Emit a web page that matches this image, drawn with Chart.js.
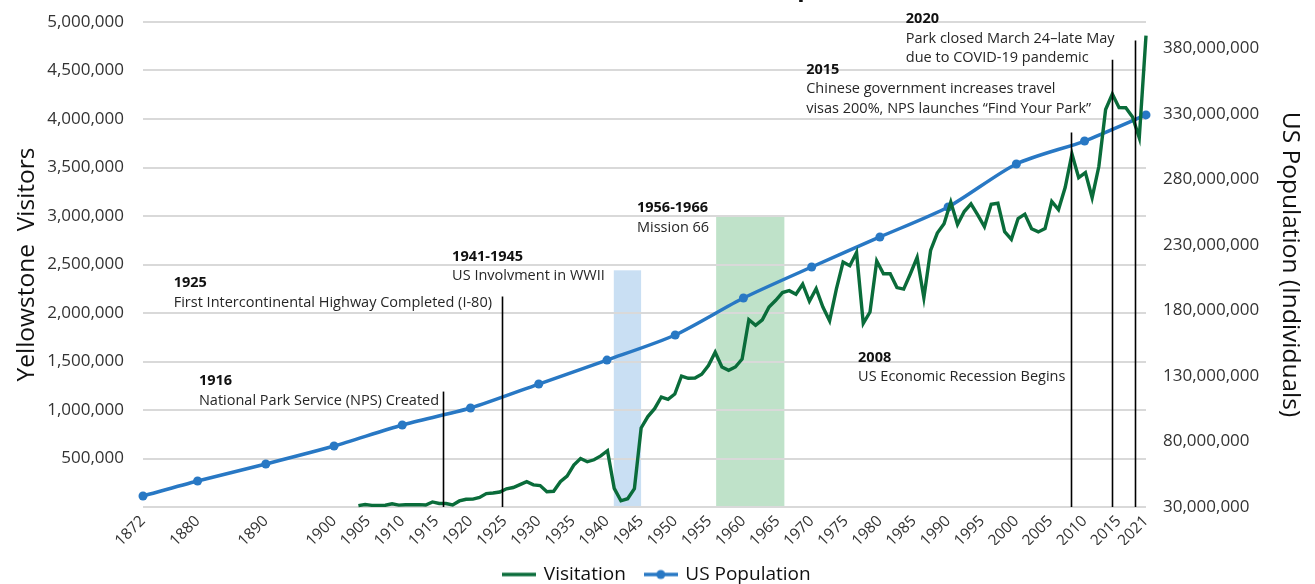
<!DOCTYPE html>
<html>
<head>
<meta charset="utf-8">
<script src="https://cdn.jsdelivr.net/npm/chart.js@4.4.1/dist/chart.umd.min.js"></script>
<style>
  html, body { margin: 0; padding: 0; background: #ffffff; overflow: hidden; }
  #wrap { position: relative; width: 1315px; height: 584px; overflow: hidden; background: #fff; }
  #c { position: absolute; left: 0; top: -25px; }
</style>
</head>
<body>
<div id="wrap"><canvas id="c" width="1315" height="619"></canvas></div>
<script>
// ---------------- DATA ----------------
const visitYears = [
  1904,1905,1906,1907,1908,1909,1910,1911,1912,1913,1914,1915,1916,1917,1918,1919,
  1920,1921,1922,1923,1924,1925,1926,1927,1928,1929,1930,1931,1932,1933,1934,1935,
  1936,1937,1938,1939,1940,1941,1942,1943,1944,1945,1946,1947,1948,1949,1950,1951,
  1952,1953,1954,1955,1956,1957,1958,1959,1960,1961,1962,1963,1964,1965,1966,1967,
  1968,1969,1970,1971,1972,1973,1974,1975,1976,1977,1978,1979,1980,1981,1982,1983,
  1984,1985,1986,1987,1988,1989,1990,1991,1992,1993,1994,1995,1996,1997,1998,1999,
  2000,2001,2002,2003,2004,2005,2006,2007,2008,2009,2010,2011,2012,2013,2014,2015,
  2016,2017,2018,2019,2020,2021
];
const visitors = [
  13727,26188,17182,16414,18748,32545,19575,23054,22970,24929,20250,51895,35849,35400,21275,62261,
  79777,81651,98223,138352,144158,154282,187807,200825,230984,260697,227901,221248,157624,161938,260775,317998,
  432570,499242,466185,486936,526437,579696,191830,64144,85347,189531,814907,932501,1013531,1133814,1109926,1164648,
  1350313,1326858,1328901,1368515,1457782,1595875,1442588,1408667,1443288,1524894,1930000,1872000,1929000,2062000,2131000,2211000,
  2230000,2193000,2297000,2121000,2250000,2062000,1920000,2246000,2525000,2487000,2624000,1892000,2010000,2537000,2405000,2405000,
  2262000,2246000,2405000,2573000,2158000,2645000,2824000,2920000,3144000,2912000,3046000,3126000,3012000,2889000,3120000,3131000,
  2838000,2759000,2974000,3019000,2868000,2836000,2870000,3151000,3066000,3296000,3640000,3395000,3448000,3189000,3513000,4098000,
  4257000,4117000,4116000,4021000,3806000,4860000
];
const popYears = [1872,1880,1890,1900,1910,1920,1930,1940,1950,1960,1970,1980,1990,2000,2010,2019];
const population = [38400000,49800000,62800000,76500000,92600000,105500000,123800000,142100000,
                    161200000,189400000,213100000,236000000,258900000,291700000,309200000,329100000];
const tickYears = [1872,1880,1890,1900,1905,1910,1915,1920,1925,1930,1935,1940,1945,1950,1955,
                   1960,1965,1970,1975,1980,1985,1990,1995,2000,2005,2010,2015,2021];
const popTicks = [30000000,80000000,130000000,180000000,230000000,280000000,330000000,380000000];

const bandRanges = [[1941,1945],[1956,1966]];
const bandTops = [2440000,3000000];
const eventLineYears = [1916,1924.6,2008,2014,2017.4];
const eventLineTops = [1190000,2170000,3860000,4610000,4810000];
const eventHeads = ['1916','1925','1941-1945','1956-1966','2008','2015','2020'];
const eventTexts = [
  ['National Park Service (NPS) Created'],
  ['First Intercontinental Highway Completed (I-80)'],
  ['US Involvment in WWII'],
  ['Mission 66'],
  ['US Economic Recession Begins'],
  ['Chinese government increases travel','visas 200%, NPS launches \u201CFind Your Park\u201D'],
  ['Park closed March 24\u2013late May','due to COVID-19 pandemic']
];
// label anchor (left edge, first-line centre) in axis units
const eventLabelAt = [
  [1880.2,1300000],[1876.5,2310000],[1917.3,2580000],[1944.4,3080000],
  [1976.8,1540000],[1969.2,4510000],[1983.8,5030000]
];

// ---------------- STYLE ----------------
const F = "'Open Sans', 'Noto Sans', sans-serif";
const GREEN = '#0a6c3a';
const BLUE = '#2878c4';
const BAND_COLORS = ['#c9dff3','#bfe2c9'];

function makeIcon(color, dot) {
  const cv = document.createElement('canvas');
  cv.width = 34; cv.height = 12;
  const g = cv.getContext('2d');
  g.strokeStyle = color; g.lineWidth = 3.5;
  g.beginPath(); g.moveTo(0, 6); g.lineTo(34, 6); g.stroke();
  if (dot) { g.fillStyle = color; g.beginPath(); g.arc(17, 6, 4.5, 0, Math.PI * 2); g.fill(); }
  return cv;
}
const legendIcons = [makeIcon(GREEN, false), makeIcon(BLUE, true)];

const annotPlugin = {
  id: 'annot',
  beforeDraw(chart) {
    const xs = chart.scales.x, ys = chart.scales.yV, ca = chart.chartArea, ctx = chart.ctx;
    ctx.save();
    bandRanges.forEach((r, i) => {
      const x0 = xs.getPixelForValue(r[0]), x1 = xs.getPixelForValue(r[1]);
      const y0 = ys.getPixelForValue(bandTops[i]);
      ctx.fillStyle = BAND_COLORS[i];
      ctx.fillRect(x0, y0, x1 - x0, ca.bottom - y0);
    });
    ctx.restore();
  },
  afterDatasetsDraw(chart) {
    const xs = chart.scales.x, ys = chart.scales.yV, ca = chart.chartArea, ctx = chart.ctx;
    ctx.save();
    ctx.strokeStyle = '#000'; ctx.lineWidth = 1.6;
    eventLineYears.forEach((yr, i) => {
      const x = Math.round(xs.getPixelForValue(yr)) + 0.5;
      ctx.beginPath();
      ctx.moveTo(x, ys.getPixelForValue(eventLineTops[i]));
      ctx.lineTo(x, ca.bottom);
      ctx.stroke();
    });
    ctx.restore();
  },
  afterDraw(chart) {
    const xs = chart.scales.x, ys = chart.scales.yV, ctx = chart.ctx;
    ctx.save();
    ctx.textAlign = 'left'; ctx.textBaseline = 'middle';
    eventHeads.forEach((h, i) => {
      const x = xs.getPixelForValue(eventLabelAt[i][0]);
      const y = ys.getPixelForValue(eventLabelAt[i][1]);
      ctx.fillStyle = '#111';
      ctx.font = "bold 14.5px " + F;
      ctx.fillText(h, x, y);
      ctx.fillStyle = '#262626';
      ctx.font = "14.5px " + F;
      eventTexts[i].forEach((t, j) => ctx.fillText(t, x, y + 19.5 * (j + 1)));
    });
    ctx.restore();
  }
};

new Chart(document.getElementById('c'), {
  type: 'line',
  data: {
    datasets: [
      {
        label: 'Visitation',
        data: visitYears.map((y, i) => ({ x: y, y: visitors[i] })),
        xAxisID: 'xg', yAxisID: 'yV',
        borderColor: GREEN, backgroundColor: GREEN,
        borderWidth: 3.4, pointRadius: 0, tension: 0, fill: false, clip: false
      },
      {
        label: 'US Population',
        data: popYears.map((y, i) => ({ x: y, y: population[i] })),
        xAxisID: 'x', yAxisID: 'yP',
        borderColor: BLUE, backgroundColor: BLUE,
        borderWidth: 3.5, pointRadius: 4.5, pointBorderWidth: 0,
        pointBackgroundColor: BLUE, tension: 0.25, fill: false, clip: false
      }
    ]
  },
  options: {
    responsive: false, animation: false, devicePixelRatio: 1,
    layout: { padding: { top: 0, left: 0, right: 0, bottom: 0 } },
    plugins: {
      title: {
        display: true, text: 'Yellowstone Visitation vs. US Population',
        font: { family: F, size: 24, weight: 'bold' }, color: '#111',
        padding: { top: 0, bottom: 18.2 }
      },
      legend: {
        position: 'bottom',
        labels: {
          usePointStyle: true, pointStyleWidth: 30, padding: 20,
          font: { family: F, size: 19 }, color: '#111',
          generateLabels: (chart) => chart.data.datasets.map((ds, i) => ({
            text: ds.label, pointStyle: legendIcons[i], fontColor: '#111',
            hidden: false, datasetIndex: i, lineWidth: 0,
            strokeStyle: 'rgba(0,0,0,0)', fillStyle: 'rgba(0,0,0,0)'
          }))
        }
      },
      tooltip: { enabled: false }
    },
    scales: {
      x: {
        type: 'linear', position: 'bottom', min: 1872, max: 2019,
        grid: { display: false, drawTicks: false }, border: { display: false },
        afterBuildTicks: (s) => { s.ticks = tickYears.map(v => ({ value: Math.min(v, s.max) })); },
        ticks: {
          autoSkip: false, minRotation: 45, maxRotation: 45, padding: 5,
          font: { family: F, size: 15.5 }, color: '#333',
          callback: (v, i) => String(tickYears[i])
        },
        afterFit: (s) => { s.height = 38; }
      },
      xg: { type: 'linear', display: false, min: 1872, max: 2021 },
      yV: {
        position: 'left', min: 0, max: 5000000,
        ticks: {
          stepSize: 500000, padding: 19, font: { family: F, size: 17 }, color: '#333',
          callback: (v) => v === 0 ? '' : v.toLocaleString('en-US')
        },
        grid: { color: '#d9d9d9', lineWidth: 2, drawTicks: false },
        border: { display: false },
        title: {
          display: true, text: 'Yellowstone  Visitors',
          font: { family: F, size: 24.5 }, color: '#111', padding: { top: 12.3, bottom: 0 }
        },
        afterFit: (s) => { s.width = 143; }
      },
      yP: {
        position: 'right', min: 30000000, max: 400000000,
        afterBuildTicks: (s) => { s.ticks = popTicks.map(v => ({ value: v })); },
        ticks: {
          padding: 17, font: { family: F, size: 17 }, color: '#333',
          callback: (v) => v.toLocaleString('en-US')
        },
        grid: { display: false, drawTicks: false },
        border: { display: false },
        title: {
          display: true, text: 'US Population (Individuals)',
          font: { family: F, size: 24.5 }, color: '#111', padding: { top: 10.3, bottom: 0 }
        },
        afterFit: (s) => { s.width = 169; }
      }
    }
  },
  plugins: [annotPlugin]
});
</script>
</body>
</html>
